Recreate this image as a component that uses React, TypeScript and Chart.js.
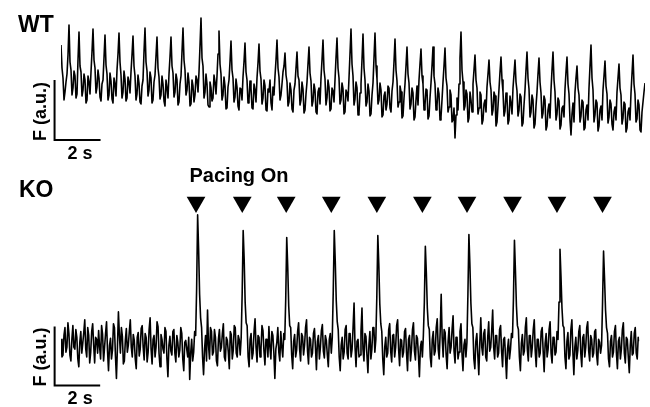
import React, { useEffect, useRef } from 'react';
import { Chart, registerables } from 'chart.js';

Chart.register(...registerables);

// one sample every 1/23 s (23 Hz)
const sampleInterval = 1 / 23;

// WT: spontaneous Ca2+ transients, F in a.u.
const wtTrace = [
    105, 82, 72, 50, 58, 68, 76, 95, 125, 88,
    80, 55, 62, 79, 74, 52, 56, 90, 118, 84,
    78, 54, 60, 76, 70, 47, 50, 74, 68, 56,
    78, 98, 121, 90, 82, 57, 63, 80, 72, 53,
    49, 66, 70, 92, 115, 85, 76, 50, 55, 77,
    69, 51, 47, 72, 66, 54, 80, 96, 117, 88,
    75, 52, 58, 79, 71, 49, 52, 73, 68, 57,
    78, 95, 114, 84, 74, 50, 56, 75, 67, 48,
    46, 64, 70, 98, 122, 88, 79, 54, 60, 78,
    72, 47, 50, 68, 75, 94, 113, 82, 73, 51,
    55, 74, 66, 49, 44, 70, 62, 52, 76, 93,
    113, 84, 77, 53, 58, 76, 70, 45, 48, 66,
    74, 98, 122, 90, 80, 55, 60, 77, 68, 44,
    46, 70, 64, 48, 55, 74, 70, 58, 78, 104,
    132, 92, 84, 52, 58, 76, 66, 45, 43, 68,
    62, 49, 52, 75, 68, 56, 74, 96, 119, 86,
    76, 50, 55, 73, 64, 41, 42, 63, 70, 88,
    109, 80, 72, 48, 53, 71, 63, 44, 40, 62,
    61, 50, 73, 88, 107, 78, 70, 47, 50, 69,
    62, 42, 41, 66, 60, 48, 72, 87, 106, 79,
    71, 46, 52, 70, 64, 40, 39, 61, 58, 70,
    47, 40, 63, 55, 74, 90, 110, 82, 73, 50,
    55, 66, 78, 84, 97, 75, 68, 44, 48, 67,
    60, 41, 38, 60, 66, 82, 98, 74, 70, 45,
    50, 68, 61, 37, 40, 56, 68, 86, 103, 77,
    69, 44, 49, 66, 60, 38, 36, 58, 62, 46,
    72, 90, 110, 80, 71, 45, 52, 70, 63, 39,
    41, 62, 59, 48, 70, 92, 112, 82, 72, 46,
    50, 67, 61, 36, 38, 60, 57, 49, 72, 96,
    121, 86, 74, 45, 51, 68, 62, 35, 37, 57,
    66, 90, 116, 82, 70, 44, 48, 66, 59, 34,
    36, 55, 67, 92, 117, 84, 71, 46, 50, 67,
    60, 33, 35, 54, 58, 40, 46, 64, 62, 42,
    38, 59, 68, 88, 111, 80, 69, 43, 48, 64,
    58, 32, 34, 52, 66, 84, 103, 76, 67, 41,
    46, 62, 57, 30, 33, 50, 64, 45, 70, 86,
    101, 74, 66, 40, 45, 61, 60, 31, 34, 52,
    67, 84, 103, 74, 66, 40, 44, 62, 56, 30,
    33, 50, 68, 84, 102, 72, 64, 38, 43, 60,
    55, 28, 30, 42, 12, 35, 52, 40, 66, 92,
    118, 80, 68, 40, 44, 60, 56, 28, 32, 58,
    50, 38, 66, 80, 95, 70, 62, 36, 42, 58,
    55, 26, 30, 46, 50, 38, 63, 76, 90, 68,
    60, 35, 40, 58, 54, 24, 28, 44, 61, 78,
    93, 70, 58, 34, 39, 57, 52, 26, 30, 54,
    47, 36, 62, 76, 90, 68, 59, 34, 40, 56,
    53, 24, 27, 45, 60, 80, 98, 72, 61, 33,
    38, 55, 50, 22, 26, 44, 58, 76, 92, 68,
    57, 32, 37, 54, 50, 20, 24, 40, 46, 32,
    60, 80, 98, 70, 58, 30, 36, 52, 49, 21,
    25, 42, 44, 33, 61, 78, 93, 66, 56, 30,
    15, 36, 47, 28, 58, 72, 84, 62, 55, 28,
    34, 50, 48, 20, 22, 40, 45, 30, 62, 84,
    105, 72, 60, 28, 35, 50, 47, 19, 24, 40,
    44, 30, 60, 74, 89, 64, 56, 27, 33, 50,
    46, 26, 20, 38, 43, 30, 58, 72, 86, 62,
    55, 26, 32, 48, 46, 18, 22, 38, 42, 30,
    57, 76, 95, 66, 56, 28, 31, 50, 45, 20,
    18, 38, 48, 58, 67,
];

// KO: quiet until field pacing starts
const koTrace = [
    58, 40, 42, 62, 70, 45, 50, 75, 64, 42,
    36, 58, 72, 50, 48, 68, 60, 38, 30, 55,
    66, 44, 54, 65, 78, 48, 40, 70, 62, 34,
    45, 66, 74, 52, 34, 60, 58, 44, 67, 50,
    38, 72, 63, 36, 50, 64, 76, 46, 26, 52,
    59, 38, 47, 74, 70, 41, 18, 50, 86, 62,
    44, 70, 61, 33, 36, 57, 69, 45, 52, 66,
    78, 50, 40, 63, 57, 38, 28, 60, 65, 41,
    48, 69, 72, 50, 37, 64, 60, 35, 45, 68,
    80, 48, 33, 58, 62, 40, 50, 76, 71, 44,
    30, 63, 58, 48, 44, 70, 66, 38, 20, 52,
    61, 46, 42, 66, 68, 44, 35, 62, 55, 40,
    47, 70, 64, 38, 26, 55, 57, 48, 40, 60,
    17, 44, 58, 36, 45, 66, 62, 110, 185, 150,
    104, 80, 70, 40, 22, 48, 62, 36, 88, 52,
    38, 70, 66, 42, 45, 68, 60, 36, 31, 58,
    68, 46, 50, 64, 74, 40, 36, 60, 57, 45,
    28, 66, 63, 38, 47, 72, 70, 44, 40, 62,
    58, 42, 60, 105, 169, 140, 96, 75, 72, 40,
    30, 58, 64, 38, 44, 66, 79, 50, 35, 62,
    60, 40, 48, 72, 67, 46, 32, 58, 58, 40,
    71, 50, 38, 66, 62, 44, 18, 48, 55, 70,
    45, 36, 66, 50, 40, 64, 58, 100, 162, 132,
    92, 72, 70, 42, 28, 56, 63, 40, 47, 66,
    75, 48, 36, 64, 61, 42, 52, 70, 78, 46,
    33, 60, 58, 40, 44, 64, 69, 50, 27, 56,
    62, 38, 50, 67, 73, 46, 39, 62, 57, 42,
    30, 58, 64, 44, 60, 108, 169, 138, 98, 76,
    68, 40, 26, 52, 60, 38, 45, 68, 72, 44,
    38, 64, 64, 40, 48, 70, 95, 50, 30, 56,
    58, 40, 42, 66, 90, 48, 36, 64, 61, 42,
    24, 52, 66, 38, 48, 70, 70, 45, 58, 102,
    164, 134, 94, 74, 66, 38, 22, 50, 60, 40,
    44, 68, 74, 46, 35, 62, 63, 40, 50, 72,
    78, 48, 31, 58, 57, 40, 45, 66, 69, 44,
    26, 58, 62, 36, 48, 68, 75, 46, 37, 62,
    59, 42, 20, 50, 56, 40, 62, 96, 153, 126,
    90, 72, 68, 40, 30, 58, 66, 42, 46, 70,
    79, 48, 38, 66, 104, 60, 40, 68, 65, 42,
    28, 56, 70, 44, 50, 68, 82, 46, 34, 60,
    60, 38, 45, 66, 74, 44, 26, 52, 58, 40,
    55, 104, 165, 134, 95, 74, 70, 38, 28, 56,
    64, 42, 22, 54, 80, 50, 42, 64, 68, 40,
    36, 60, 76, 46, 50, 66, 88, 50, 38, 62,
    62, 40, 44, 68, 72, 46, 30, 58, 60, 40,
    18, 48, 58, 38, 48, 64, 60, 100, 159, 128,
    92, 72, 68, 40, 26, 54, 63, 42, 46, 70,
    80, 48, 36, 62, 62, 40, 50, 68, 78, 46,
    30, 58, 58, 40, 44, 66, 70, 46, 25, 54,
    64, 40, 48, 68, 76, 44, 34, 60, 60, 42,
    45, 66, 58, 96, 150, 122, 90, 72, 70, 40,
    28, 56, 65, 38, 42, 68, 78, 46, 22, 50,
    60, 38, 47, 66, 72, 44, 30, 60, 63, 40,
    50, 70, 76, 46, 36, 62, 58, 40, 44, 66,
    68, 42, 32, 58, 55, 44, 52, 96, 148, 120,
    88, 70, 64, 38, 30, 56, 62, 40, 45, 66,
    72, 44, 28, 56, 60, 38, 48, 68, 75, 44,
    34, 60, 58, 40, 24, 52, 66, 42, 44, 64,
    70, 44, 38, 60, 56,
];

// stimulus times (s), 0.5 Hz
const pacingTimes = [5.93, 7.96, 9.89, 11.87, 13.87, 15.87, 17.83, 19.83, 21.78, 23.78];
const pacingLabel = 'Pacing On';
const arrowLevel = 198;

const timeBarSeconds = 2;
const fluorBarUnits = 60;

const FONT = '"Liberation Sans", Arial, Helvetica, sans-serif';

const scaleBarPlugin = {
    id: 'scaleBar',
    afterDraw(chart: any, _args: any, opts: any) {
        if (!opts || opts.x === undefined) return;
        const { ctx } = chart;
        const xs = chart.scales.x;
        const ys = chart.scales.y;
        const x0 = xs.getPixelForValue(opts.x);
        const x1 = xs.getPixelForValue(opts.x + timeBarSeconds);
        const y0 = ys.getPixelForValue(opts.y);
        const y1 = ys.getPixelForValue(opts.y + fluorBarUnits);
        ctx.save();
        ctx.strokeStyle = '#000';
        ctx.lineWidth = 2;
        ctx.beginPath();
        ctx.moveTo(x0, y1);
        ctx.lineTo(x0, y0);
        ctx.lineTo(x1, y0);
        ctx.stroke();
        ctx.fillStyle = '#000';
        ctx.font = `bold 18px ${FONT}`;
        ctx.textAlign = 'left';
        ctx.textBaseline = 'alphabetic';
        ctx.fillText(`${timeBarSeconds} s`, x0 + 13, y0 + 18.5);
        ctx.translate(x0 - 8.5, y0 + 1);
        ctx.rotate(-Math.PI / 2);
        ctx.fillText('F (a.u.)', 0, 0);
        ctx.restore();
    },
};

const labelPlugin = {
    id: 'panelLabels',
    afterDraw(chart: any, _args: any, opts: any) {
        if (!opts || !opts.items) return;
        const { ctx } = chart;
        ctx.save();
        ctx.fillStyle = '#000';
        ctx.textAlign = 'left';
        ctx.textBaseline = 'alphabetic';
        opts.items.forEach((it: any) => {
            ctx.font = `bold ${it.size}px ${FONT}`;
            ctx.fillText(it.text, it.x, it.y);
        });
        ctx.restore();
    },
};

const toPoints = (values: number[]) => values.map((v, i) => ({ x: i * sampleInterval, y: v }));

const traceDataset = (values: number[]) => ({
    type: 'line' as const,
    data: toPoints(values),
    borderColor: '#000',
    borderWidth: 1.6,
    borderJoinStyle: 'round' as const,
    pointRadius: 0,
    tension: 0,
    fill: false,
});

const baseOptions = (yMax: number, padding: any, plugins: any) => ({
    responsive: false,
    animation: false as const,
    events: [],
    layout: { padding },
    scales: {
        x: { type: 'linear' as const, display: false, min: 0, max: (wtTrace.length - 1) * sampleInterval },
        y: { type: 'linear' as const, display: false, min: 0, max: yMax },
    },
    plugins: {
        legend: { display: false },
        tooltip: { enabled: false },
        ...plugins,
    },
});

const App: React.FC = () => {
    const wtRef = useRef<HTMLCanvasElement | null>(null);
    const koRef = useRef<HTMLCanvasElement | null>(null);

    useEffect(() => {
        if (!wtRef.current || !koRef.current) return;

        const wtChart = new Chart(wtRef.current, {
            type: 'line',
            data: { datasets: [traceDataset(wtTrace)] },
            options: baseOptions(140, { left: 61, right: 5, top: 10, bottom: 10 }, {
                scaleBar: { x: -0.28, y: 10 },
                panelLabels: { items: [{ text: 'WT', x: 18, y: 32, size: 23 }] },
            }),
            plugins: [scaleBarPlugin, labelPlugin],
        } as any);

        const koChart = new Chart(koRef.current, {
            type: 'line',
            data: {
                datasets: [
                    traceDataset(koTrace),
                    {
                        type: 'scatter',
                        data: pacingTimes.map((t) => ({ x: t, y: arrowLevel })),
                        pointStyle: 'triangle',
                        pointRotation: 180,
                        pointRadius: 10.8,
                        pointBackgroundColor: '#000',
                        pointBorderWidth: 0,
                        showLine: false,
                    },
                ],
            },
            options: baseOptions(230, { left: 61, right: 5, top: 10, bottom: 7 }, {
                scaleBar: { x: -0.28, y: 11 },
                panelLabels: {
                    items: [
                        { text: 'KO', x: 19, y: 37, size: 23 },
                        { text: pacingLabel, x: 189.5, y: 22, size: 20 },
                    ],
                },
            }),
            plugins: [scaleBarPlugin, labelPlugin],
        } as any);

        return () => {
            wtChart.destroy();
            koChart.destroy();
        };
    }, []);

    return (
        <div style={{ position: 'absolute', left: 0, top: 0, width: 650, height: 407, background: '#fff' }}>
            <canvas ref={wtRef} width={650} height={160}
                style={{ position: 'absolute', left: 0, top: 0, width: 650, height: 160, display: 'block' }} />
            <canvas ref={koRef} width={650} height={247}
                style={{ position: 'absolute', left: 0, top: 160, width: 650, height: 247, display: 'block' }} />
        </div>
    );
};

export default App;
